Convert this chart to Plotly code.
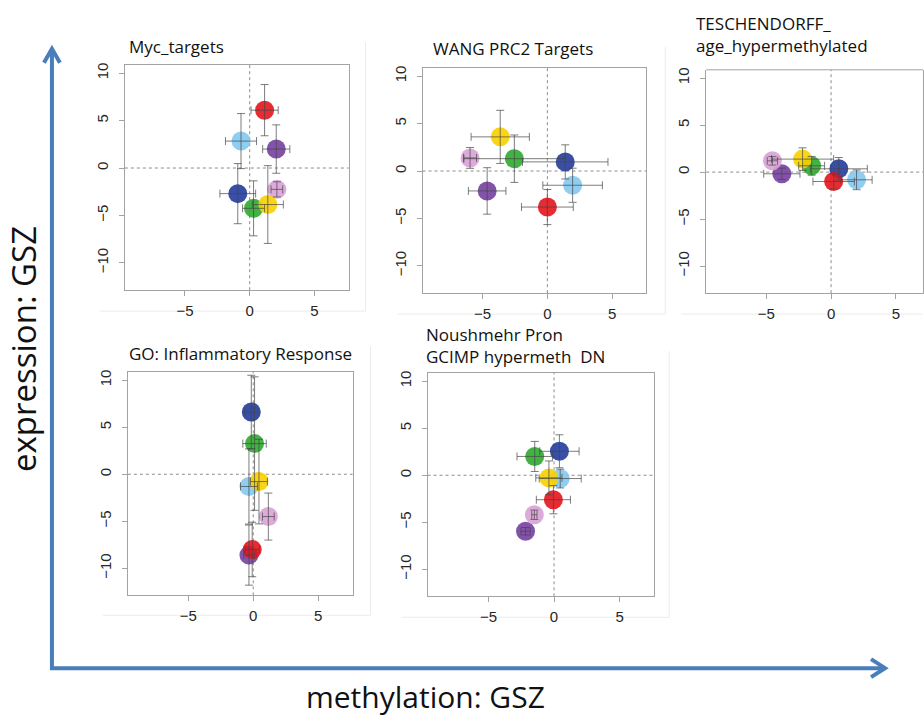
import plotly.graph_objects as go

W, H = 924, 718

# Series (one colour per sample group), drawn in this order
groups = ["blue", "lightblue", "purple", "pink", "green", "yellow", "red"]
group_colors = ["#233c9b", "#84c9ef", "#7540a0", "#d9a2d6", "#2eaa2e", "#f8d000", "#e3141c"]

panel_titles = [
    "Myc_targets",
    "WANG PRC2 Targets",
    "TESCHENDORFF_<br>age_hypermethylated",
    "GO: Inflammatory Response",
    "Noushmehr Pron<br>GCIMP hypermeth  DN",
]

# methylation GSZ (x), expression GSZ (y) and their error half-widths, per panel
myc_x = [-0.92, -0.67, 2.05, 2.10, 0.30, 1.40, 1.15]
myc_y = [-2.70, 2.84, 2.00, -2.25, -4.25, -3.85, 6.10]
myc_xerr = [1.38, 1.20, 1.05, 0.45, 0.85, 1.20, 1.05]
myc_yerr = [3.17, 2.90, 2.55, 0.80, 2.90, 4.10, 2.70]

wang_x = [1.38, 1.95, -4.65, -5.97, -2.55, -3.64, 0.00]
wang_y = [0.96, -1.50, -2.10, 1.38, 1.30, 3.60, -3.80]
wang_xerr = [3.30, 2.30, 1.45, 0.50, 3.90, 2.25, 2.00]
wang_yerr = [1.80, 1.80, 2.45, 1.10, 2.50, 2.80, 1.85]

tesch_x = [0.60, 1.97, -3.80, -4.53, -1.50, -2.20, 0.20]
tesch_y = [0.35, -0.82, -0.18, 1.20, 0.67, 1.38, -1.00]
tesch_xerr = [2.20, 1.20, 1.40, 0.40, 1.00, 2.40, 1.60]
tesch_yerr = [1.20, 1.05, 0.60, 0.45, 1.00, 1.20, 0.80]

inflam_x = [-0.15, -0.33, -0.33, 1.16, 0.10, 0.44, -0.08]
inflam_y = [6.63, -1.30, -8.60, -4.50, 3.26, -0.78, -8.00]
inflam_xerr = [0.50, 0.65, 0.40, 0.45, 0.90, 0.65, 0.55]
inflam_yerr = [3.90, 4.00, 3.20, 2.50, 7.10, 4.50, 2.90]

gcimp_x = [0.41, 0.47, -2.17, -1.50, -1.47, -0.39, -0.05]
gcimp_y = [2.55, -0.35, -5.96, -4.20, 2.00, -0.28, -2.60]
gcimp_xerr = [1.50, 1.60, 0.35, 0.20, 1.35, 1.00, 1.30]
gcimp_yerr = [1.75, 1.00, 0.40, 0.50, 1.60, 1.80, 1.50]

x_ticks = [-5, 0, 5]
y_ticks = [-10, -5, 0, 5, 10]
x_range = [-9.64, 7.64]
y_range = [-12.88, 10.88]

panels = [
    (myc_x, myc_y, myc_xerr, myc_yerr),
    (wang_x, wang_y, wang_xerr, wang_yerr),
    (tesch_x, tesch_y, tesch_xerr, tesch_yerr),
    (inflam_x, inflam_y, inflam_xerr, inflam_yerr),
    (gcimp_x, gcimp_y, gcimp_xerr, gcimp_yerr),
]

# plot-box pixel rectangles (left, top, right, bottom)
boxes = [
    (125, 63, 349, 289),
    (423, 66, 647, 292),
    (707, 68, 931, 292),
    (128, 371, 353, 595),
    (428, 372, 655, 596),
]
title_pos = [(127, 45), (431, 47), (695, 33), (127, 352), (424, 344)]


def px(x):
    return x / W


def py(y):
    return 1 - y / H


fig = go.Figure()
layout = dict(
    width=W, height=H,
    margin=dict(l=0, r=0, t=0, b=0),
    paper_bgcolor="white", plot_bgcolor="white",
    showlegend=False,
)
shapes = []
annotations = []

BOX_COLOR = "#a3a3a3"
TICK_FONT = dict(family="Liberation Sans, Arial", size=15, color="#262626")
TITLE_FONT = dict(family="Open Sans, Lato", size=17, color="#111111")

for i, ((xs, ys, xe, ye), (l, t, r, b)) in enumerate(zip(panels, boxes)):
    n = "" if i == 0 else str(i + 1)
    xa, ya = "x" + n, "y" + n
    # clip the last panel at the figure edge while keeping the same scale
    xr = list(x_range)
    right = r
    if r > W:
        scale = (x_range[1] - x_range[0]) / (r - l)
        xr[1] = x_range[0] + (W - l) * scale
        right = W
    clipped = right != r
    layout["xaxis" + n] = dict(
        domain=[px(l), px(right)], range=xr, anchor=ya,
        tickvals=x_ticks, ticktext=[str(v).replace("-", "\u2212") for v in x_ticks],
        ticks="outside", ticklen=5, tickcolor=BOX_COLOR, tickfont=TICK_FONT,
        showgrid=False, zeroline=False, showline=True, linecolor=BOX_COLOR,
        mirror=not clipped, ticklabelstandoff=2,
    )
    layout["yaxis" + n] = dict(
        domain=[py(b), py(t)], range=y_range, anchor=xa,
        tickvals=y_ticks, ticktext=[str(v).replace("-", "\u2212") for v in y_ticks],
        ticks="outside", ticklen=5, tickcolor=BOX_COLOR, tickfont=TICK_FONT,
        tickangle=-90, showgrid=False, zeroline=False, showline=True,
        linecolor=BOX_COLOR, mirror=True, ticklabelstandoff=5,
    )
    if clipped:
        shapes.append(dict(type="line", xref="paper", yref="paper",
                           x0=px(l), x1=1.0, y0=py(t), y1=py(t),
                           line=dict(color=BOX_COLOR, width=1)))
    # dotted reference lines at zero
    shapes.append(dict(type="line", xref=xa, yref=ya + " domain", x0=0, x1=0, y0=0, y1=1,
                       line=dict(color="#8c8c8c", width=1, dash="dot"), layer="below"))
    shapes.append(dict(type="line", xref=xa + " domain", yref=ya, x0=0, x1=1, y0=0, y1=0,
                       line=dict(color="#8c8c8c", width=1, dash="dot"), layer="below"))

    # filled circles
    for k, g in enumerate(groups):
        fig.add_trace(go.Scatter(
            x=[xs[k]], y=[ys[k]], mode="markers", name=g, xaxis=xa, yaxis=ya,
            marker=dict(size=19, color=group_colors[k], opacity=0.9, line=dict(width=0)),
            hoverinfo="skip",
        ))
    # error bars over the circles
    fig.add_trace(go.Scatter(
        x=xs, y=ys, mode="markers", xaxis=xa, yaxis=ya, name="error bars",
        marker=dict(size=1, opacity=0),
        error_x=dict(type="data", array=xe, symmetric=True, color="rgba(70,70,70,0.7)",
                     thickness=1, width=4),
        error_y=dict(type="data", array=ye, symmetric=True, color="rgba(70,70,70,0.7)",
                     thickness=1, width=4),
        hoverinfo="skip",
    ))

    tx, ty = title_pos[i]
    annotations.append(dict(
        text=panel_titles[i], xref="paper", yref="paper", x=px(tx), y=py(ty),
        xanchor="left", yanchor="middle", align="left", showarrow=False,
        font=TITLE_FONT,
    ))

# faint outlines of each panel image
FRAME = "#ececec"
for (x0, y0, x1, y1) in [(366, 40, 366, 310), (100, 310, 366, 310),
                         (666, 45, 666, 313), (398, 313, 666, 313),
                         (682, 313, 924, 313),
                         (371, 345, 371, 615), (103, 615, 371, 615),
                         (670, 350, 670, 617), (402, 617, 670, 617)]:
    shapes.append(dict(type="line", xref="paper", yref="paper",
                       x0=px(x0), x1=px(x1), y0=py(y0), y1=py(y1),
                       line=dict(color=FRAME, width=1), layer="below"))

# big blue axes with open arrowheads
ARROW = "#4a7ebb"
ax_path = f"M {px(52)},{py(48)} L {px(52)},{py(668)} L {px(886)},{py(668)}"
shapes.append(dict(type="path", xref="paper", yref="paper", path=ax_path,
                   line=dict(color=ARROW, width=4)))
shapes.append(dict(type="path", xref="paper", yref="paper",
                   path=f"M {px(44)},{py(61)} L {px(52)},{py(47)} L {px(60)},{py(61)}",
                   line=dict(color=ARROW, width=4)))
shapes.append(dict(type="path", xref="paper", yref="paper",
                   path=f"M {px(872)},{py(659)} L {px(886)},{py(668)} L {px(872)},{py(677)}",
                   line=dict(color=ARROW, width=4)))

annotations.append(dict(text="expression: GSZ", xref="paper", yref="paper",
                        x=px(23), y=py(348), textangle=-90, showarrow=False,
                        xanchor="center", yanchor="middle",
                        font=dict(family="Open Sans, Lato", size=33, color="#111111")))
annotations.append(dict(text="methylation: GSZ", xref="paper", yref="paper",
                        x=px(426), y=py(696), showarrow=False,
                        xanchor="center", yanchor="middle",
                        font=dict(family="Open Sans, Lato", size=30, color="#111111")))

layout["shapes"] = shapes
layout["annotations"] = annotations
fig.update_layout(**layout)
fig.write_html("out.html")
